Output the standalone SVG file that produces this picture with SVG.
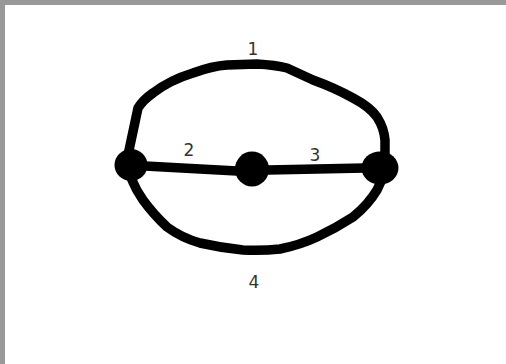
<svg xmlns="http://www.w3.org/2000/svg" width="506" height="364" viewBox="0 0 506 364">
<style>
.edge{fill:none;stroke:#000;stroke-width:9.5;stroke-linecap:round;stroke-linejoin:round}
.node{fill:#000}
.lbl{font-family:"DejaVu Sans",sans-serif;font-size:17px;fill:#333;text-anchor:middle}
</style>
<rect x="0" y="0" width="506" height="364" fill="#fff"/>
<rect x="0" y="0" width="506" height="5" fill="#999"/>
<rect x="0" y="0" width="5" height="364" fill="#999"/>
<g id="connectors">
<path id="e1" class="edge" d="M128,155 L138,108 Q143,100 153,93 Q170,80 193,73 Q212,66 227,65 L257,64 Q275,65 287,68 Q300,74 313,80 Q335,88 353,98 Q370,107 377,117 Q384,128 385,140 L385,162"/>
<path id="e2" class="edge" d="M145,166 L237,171"/>
<path id="e3" class="edge" d="M268,170 L365,168"/>
<path id="e4" class="edge" d="M132,180 Q136,190 143,200 Q154,215 167,227 Q182,238 200,243 Q222,248 243,250 Q262,251 280,249 Q300,245 317,237 Q336,228 353,217 Q368,205 377,190 L383,177"/>
<text class="lbl" x="253" y="55">1</text>
<text class="lbl" x="189" y="156">2</text>
<text class="lbl" x="315" y="161">3</text>
<text class="lbl" x="254" y="288">4</text>
</g>
<g id="n1"><ellipse class="node" cx="131" cy="165" rx="16.5" ry="16"/></g>
<g id="n2"><ellipse class="node" cx="252" cy="169" rx="17" ry="17.5"/></g>
<g id="n3"><ellipse class="node" cx="380" cy="168" rx="18.5" ry="16.5"/></g>
</svg>
